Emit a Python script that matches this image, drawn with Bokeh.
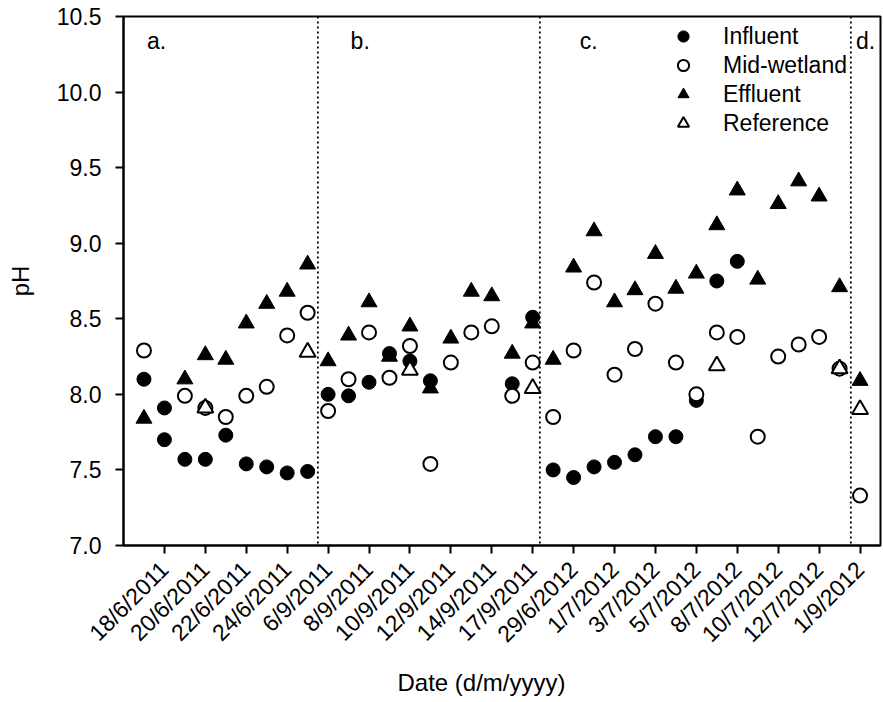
import math
from bokeh.plotting import figure
from bokeh.models import (FixedTicker, Range1d, Span, Label, Legend, LegendItem,
                          PrintfTickFormatter, ColumnDataSource, Title)
from bokeh.embed import file_html
from bokeh.resources import INLINE

# ---------------- data ----------------
dates = [
    "17/6/2011", "18/6/2011", "19/6/2011", "20/6/2011", "21/6/2011", "22/6/2011",
    "23/6/2011", "24/6/2011", "25/6/2011",
    "6/9/2011", "7/9/2011", "8/9/2011", "9/9/2011", "10/9/2011", "11/9/2011",
    "12/9/2011", "13/9/2011", "14/9/2011", "16/9/2011", "17/9/2011",
    "28/6/2012", "29/6/2012", "30/6/2012", "1/7/2012", "2/7/2012", "3/7/2012",
    "4/7/2012", "5/7/2012", "7/7/2012", "8/7/2012", "9/7/2012", "10/7/2012",
    "11/7/2012", "12/7/2012", "13/7/2012",
    "1/9/2012",
]
tick_labels = [
    "18/6/2011", "20/6/2011", "22/6/2011", "24/6/2011", "6/9/2011", "8/9/2011",
    "10/9/2011", "12/9/2011", "14/9/2011", "17/9/2011", "29/6/2012", "1/7/2012",
    "3/7/2012", "5/7/2012", "8/7/2012", "10/7/2012", "12/7/2012", "1/9/2012",
]
N = None
influent = [8.10, 7.70, 7.57, 7.57, 7.73, 7.54, 7.52, 7.48, 7.49,
            8.00, 7.99, 8.08, 8.27, 8.22, 8.09, N, N, N, 8.07, 8.51,
            7.50, 7.45, 7.52, 7.55, 7.60, 7.72, 7.72, 7.96, 8.75, 8.88, N, N, N, N, N,
            N]
influent_repeat_dates = ["18/6/2011"]
influent_repeat = [7.91]
mid_wetland = [8.29, N, 7.99, 7.91, 7.85, 7.99, 8.05, 8.39, 8.54,
               7.89, 8.10, 8.41, 8.11, 8.32, 7.54, 8.21, 8.41, 8.45, 7.99, 8.21,
               7.85, 8.29, 8.74, 8.13, 8.30, 8.60, 8.21, 8.00, 8.41, 8.38, 7.72, 8.25,
               8.33, 8.38, 8.17,
               7.33]
effluent = [7.84, N, 8.10, 8.26, 8.23, 8.47, 8.60, 8.68, 8.86,
            8.22, 8.39, 8.61, 8.25, 8.45, 8.04, 8.37, 8.68, 8.65, 8.27, 8.47,
            8.23, 8.84, 9.08, 8.61, 8.69, 8.93, 8.70, 8.80, 9.12, 9.35, 8.76, 9.26,
            9.41, 9.31, 8.71,
            8.09]
reference = [N, N, N, 7.91, N, N, N, N, 8.28,
             N, N, N, N, 8.16, N, N, N, N, N, 8.04,
             N, N, N, N, N, N, N, N, 8.19, N, N, N, N, N, 8.17,
             7.90]
section_names = ["a.", "b.", "c.", "d."]
section_label_x = [0.15, 10.1, 21.3, 34.8]
section_breaks = [8.5, 19.35, 34.55]
x_title = "Date (d/m/yyyy)"
y_title = "pH"

FONT = "Liberation Sans"


def pts(vals, xs=None):
    xs = xs if xs is not None else list(range(len(vals)))
    x = [xi for xi, v in zip(xs, vals) if v is not None]
    y = [v for v in vals if v is not None]
    return ColumnDataSource(dict(x=x, y=y))


p = figure(width=883, height=702, output_backend="svg", toolbar_location=None,
           x_range=Range1d(-1, 36), y_range=Range1d(7.0, 10.5),
           min_border_left=123, min_border_right=3, min_border_top=16,
           min_border_bottom=156)
p.grid.visible = False
p.background_fill_color = "white"
p.outline_line_color = "black"
p.outline_line_width = 2

# axes
p.xaxis.ticker = FixedTicker(ticks=[dates.index(t) for t in tick_labels])
p.xaxis.major_label_overrides = {dates.index(t): t for t in tick_labels}
p.xaxis.major_label_orientation = math.pi / 4
p.yaxis.ticker = FixedTicker(ticks=[7.0, 7.5, 8.0, 8.5, 9.0, 9.5, 10.0, 10.5])
p.yaxis.formatter = PrintfTickFormatter(format="%.1f")
for ax in (p.xaxis[0], p.yaxis[0]):
    ax.axis_line_width = 2
    ax.axis_line_color = "black"
    ax.major_tick_line_width = 2
    ax.major_tick_line_color = "black"
    ax.major_tick_out = 8
    ax.major_tick_in = 0
    ax.minor_tick_out = 0
    ax.minor_tick_in = 0
    ax.major_label_text_font = FONT
    ax.major_label_text_font_size = "23px"
    ax.major_label_text_color = "black"
    ax.axis_label_text_font = FONT
    ax.axis_label_text_font_size = "24px"
    ax.axis_label_text_font_style = "normal"
    ax.axis_label_text_color = "black"
p.yaxis.major_label_standoff = 14
p.xaxis.major_label_standoff = 12
p.yaxis.axis_label = y_title
p.yaxis.axis_label_standoff = 20

# x-axis title as a below-title, shifted a little left of the frame centre
xt = Title(text=x_title, align="left", offset=274, standoff=14,
           text_font=FONT, text_font_size="24px", text_font_style="normal",
           text_color="black")
p.add_layout(xt, "below")

# section dividers
for b in section_breaks:
    p.add_layout(Span(location=b, dimension="height", line_color="black",
                      line_width=1.8, line_dash="2 3"))

# series
r_eff = p.scatter("x", "y", source=pts(effluent), marker="triangle", size=16,
                  fill_color="black", line_color="black", line_width=1)
r_inf = p.scatter("x", "y", source=pts(influent), marker="circle", size=14,
                  fill_color="black", line_color="black", line_width=1)
p.scatter("x", "y", source=pts(influent_repeat, [dates.index(d) for d in influent_repeat_dates]),
          marker="circle", size=14, fill_color="black", line_color="black", line_width=1)
r_mid = p.scatter("x", "y", source=pts(mid_wetland), marker="circle", size=14,
                  fill_color="white", line_color="black", line_width=2)
r_ref = p.scatter("x", "y", source=pts(reference), marker="triangle", size=16,
                  fill_color="white", line_color="black", line_width=2)

# section labels
for name, sx in zip(section_names, section_label_x):
    p.add_layout(Label(x=sx, y=10.34, text=name, text_font=FONT,
                       text_font_size="23px", text_baseline="middle",
                       text_align="left", text_color="black"))

legend = Legend(items=[
    LegendItem(label="Influent", renderers=[r_inf]),
    LegendItem(label="Mid-wetland", renderers=[r_mid]),
    LegendItem(label="Effluent", renderers=[r_eff]),
    LegendItem(label="Reference", renderers=[r_ref]),
], location=(546, 408))
legend.border_line_alpha = 0
legend.background_fill_alpha = 0
legend.padding = 0
legend.margin = 0
legend.spacing = 1
legend.glyph_width = 28
legend.glyph_height = 28
legend.label_height = 28
legend.label_standoff = 26
legend.label_text_font = FONT
legend.label_text_font_size = "23px"
legend.label_text_color = "black"
p.add_layout(legend)

open("out.html", "w").write(file_html(p, INLINE))
